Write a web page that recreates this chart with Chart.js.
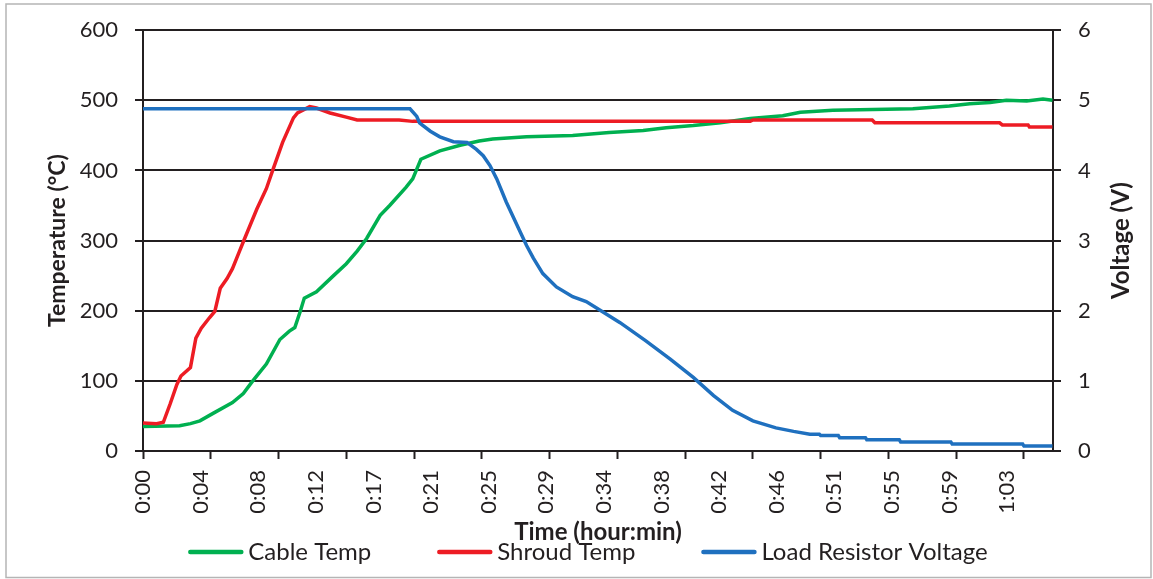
<!DOCTYPE html>
<html>
<head>
<meta charset="utf-8">
<script src="https://cdn.jsdelivr.net/npm/chart.js@4.4.1/dist/chart.umd.min.js"></script>
<style>
  html, body { margin: 0; padding: 0; background: #fff; }
  #wrap { width: 1153px; height: 579px; }
</style>
</head>
<body>
<div id="wrap"><canvas id="chart" width="1153" height="579"></canvas></div>
<script>
// x axis: time in minutes, labels every 4.25 min, tick marks every 5 min
const timeLabels = ["0:00", "0:04", "0:08", "0:12", "0:17", "0:21", "0:25", "0:29",
                    "0:34", "0:38", "0:42", "0:46", "0:51", "0:55", "0:59", "1:03"];
const labelStep = 4.25;
const markStep = 5;
const endMin = 67.14;

const cableMin  = [0, 2.7, 3.5, 4.2, 5.2, 6.6, 7.4, 8.1, 9.1, 10.1, 10.8, 11.2, 11.6, 11.9, 12.8, 14.0,
                   15.0, 15.8, 16.5, 17.5, 18.2, 19.4, 19.9, 20.2, 20.5, 21.9, 23.4, 24.8, 25.8, 28.3,
                   31.7, 34.4, 36.9, 38.6, 40.6, 42.6, 44.8, 47.2, 48.5, 50.9, 56.8, 59.5, 61.0, 62.5,
                   63.7, 65.2, 66.4, 67.1];
const cableTemp = [35, 36, 39, 43, 54, 69, 82, 100, 124, 159, 171, 176, 199, 218, 227, 249,
                   267, 285, 303, 336, 350, 376, 388, 402, 416, 428, 436, 442, 445, 448,
                   450, 454, 457, 461, 464, 468, 474, 478, 483, 486, 488, 492, 495, 497,
                   500, 499, 502, 500];

const shroudMin  = [0, 1.0, 1.5, 2.0, 2.5, 2.8, 3.5, 3.9, 4.3, 4.9, 5.3, 5.7, 6.2, 6.6, 7.1, 7.5,
                    8.4, 9.1, 9.6, 10.3, 11.1, 11.4, 12.3, 12.8, 13.8, 15.0, 15.8, 18.9, 19.9, 44.8,
                    45.0, 53.8, 54.0, 63.2, 63.4, 65.3, 65.4, 67.1];
const shroudTemp = [40, 39, 41, 67, 95, 107, 119, 161, 175, 190, 199, 232, 246, 260, 284, 303,
                    345, 374, 402, 440, 475, 482, 491, 489, 482, 476, 472, 472, 470, 470,
                    472, 472, 468, 468, 465, 465, 462, 462];

const voltMin = [0, 19.7, 20.2, 20.4, 21.2, 21.9, 22.9, 23.9, 24.6, 25.1, 25.6, 26.1, 26.8, 27.6,
                 28.3, 28.8, 29.5, 30.5, 31.7, 32.7, 33.7, 35.2, 37.1, 38.9, 40.6, 42.1, 43.5,
                 45.0, 46.7, 48.0, 49.2, 49.9, 50.0, 51.3, 51.4, 53.3, 53.4, 55.8, 55.9, 59.6,
                 59.7, 64.9, 65.0, 67.1];
const volts   = [4.88, 4.88, 4.77, 4.68, 4.56, 4.48, 4.41, 4.40, 4.30, 4.21, 4.07, 3.88, 3.55, 3.22,
                 2.93, 2.75, 2.53, 2.34, 2.20, 2.13, 2.01, 1.83, 1.57, 1.31, 1.05, 0.79, 0.58,
                 0.43, 0.33, 0.28, 0.24, 0.24, 0.22, 0.22, 0.19, 0.19, 0.16, 0.16, 0.13, 0.13,
                 0.10, 0.10, 0.07, 0.07];

const ink = "#231f20";
const fontFamily = "Lato, 'Open Sans', sans-serif";

function pairs(xs, ys) {
  return xs.map((x, i) => ({ x: x, y: ys[i] }));
}

// light grey frame round the whole chart
const framePlugin = {
  id: "frame",
  beforeDraw(chart) {
    const ctx = chart.ctx;
    ctx.save();
    ctx.strokeStyle = "#b5b5b5";
    ctx.lineWidth = 1.5;
    ctx.strokeRect(6, 4, 1145, 573.5);
    ctx.restore();
  }
};

// right axis title reads bottom-to-top like the left one
const rightTitlePlugin = {
  id: "rightTitle",
  afterDraw(chart) {
    const ctx = chart.ctx;
    const area = chart.chartArea;
    ctx.save();
    ctx.translate(1121, (area.top + area.bottom) / 2);
    ctx.rotate(-Math.PI / 2);
    ctx.font = "bold 24px " + fontFamily;
    ctx.fillStyle = ink;
    ctx.textAlign = "center";
    ctx.textBaseline = "middle";
    ctx.fillText("Voltage (V)", 0, 0);
    ctx.restore();
  }
};

// legend drawn by hand: 55px line, small gap, text
const legendPlugin = {
  id: "lineLegend",
  afterDraw(chart) {
    const ctx = chart.ctx;
    const sets = chart.data.datasets;
    const lineLen = 55, gap = 5, itemGap = 66;
    ctx.save();
    ctx.font = "24px " + fontFamily;
    const widths = sets.map(d => ctx.measureText(d.label).width);
    let total = itemGap * (sets.length - 1);
    widths.forEach(w => { total += lineLen + gap + w; });
    let x = 588 - total / 2;
    const y = 552;
    sets.forEach((d, i) => {
      ctx.strokeStyle = d.borderColor;
      ctx.lineWidth = 4.5;
      ctx.lineCap = "round";
      ctx.beginPath();
      ctx.moveTo(x + 2, y);
      ctx.lineTo(x + lineLen - 2, y);
      ctx.stroke();
      ctx.fillStyle = ink;
      ctx.textBaseline = "middle";
      ctx.textAlign = "left";
      ctx.fillText(d.label, x + lineLen + gap, y);
      x += lineLen + gap + widths[i] + itemGap;
    });
    ctx.restore();
  }
};

Chart.defaults.font.family = fontFamily;
Chart.defaults.color = ink;

new Chart(document.getElementById("chart"), {
  type: "line",
  data: {
    datasets: [
      { label: "Cable Temp", data: pairs(cableMin, cableTemp), borderColor: "#00b050",
        yAxisID: "y", order: 2 },
      { label: "Shroud Temp", data: pairs(shroudMin, shroudTemp), borderColor: "#ed1c24",
        yAxisID: "y", order: 1 },
      { label: "Load Resistor Voltage", data: pairs(voltMin, volts), borderColor: "#1f70bf",
        yAxisID: "y1", order: 0 }
    ]
  },
  options: {
    responsive: false,
    animation: false,
    events: [],
    devicePixelRatio: 1,
    layout: { padding: { top: 27, left: 0, right: 0, bottom: 0 } },
    elements: {
      line: { borderWidth: 3.5, tension: 0, fill: false },
      point: { radius: 0 }
    },
    plugins: { legend: { display: false }, tooltip: { enabled: false } },
    scales: {
      x: {
        type: "linear",
        position: "bottom",
        min: 0,
        max: endMin,
        afterBuildTicks(axis) {
          const t = [];
          for (let v = 0; v <= endMin; v += markStep) t.push({ value: v, mark: true });
          timeLabels.forEach((s, i) => t.push({ value: i * labelStep, txt: s }));
          t.sort((a, b) => a.value - b.value);
          axis.ticks = t;
        },
        afterFit(axis) { axis.height = 128; },
        ticks: {
          autoSkip: false,
          minRotation: 90,
          maxRotation: 90,
          padding: 11,
          font: { size: 22 },
          callback(value, index, ticks) { return ticks[index].txt || ""; }
        },
        grid: {
          drawOnChartArea: false,
          drawTicks: true,
          tickLength: 8,
          tickWidth: 2,
          tickColor: c => (c.tick && c.tick.mark) ? ink : "rgba(0,0,0,0)"
        },
        border: { display: true, color: ink, width: 2 },
        title: {
          display: true,
          text: "Time (hour:min)",
          font: { size: 24, weight: "bold" },
          padding: { top: 0, bottom: 32 }
        }
      },
      y: {
        position: "left",
        min: 0,
        max: 600,
        afterFit(axis) { axis.width = 143; },
        ticks: { stepSize: 100, padding: 17, font: { size: 22 } },
        grid: { color: ink, lineWidth: 2, tickLength: 8 },
        border: { display: true, color: ink, width: 2 },
        title: {
          display: true,
          text: "Temperature (°C)",
          font: { size: 23, weight: "bold" },
          padding: { top: 44, bottom: 0 }
        }
      },
      y1: {
        position: "right",
        min: 0,
        max: 6,
        afterFit(axis) { axis.width = 100; },
        ticks: { stepSize: 1, padding: 17, font: { size: 22 } },
        grid: { drawOnChartArea: false, color: ink, lineWidth: 2, tickLength: 8 },
        border: { display: true, color: ink, width: 2 }
      }
    }
  },
  plugins: [framePlugin, rightTitlePlugin, legendPlugin]
});
</script>
</body>
</html>
